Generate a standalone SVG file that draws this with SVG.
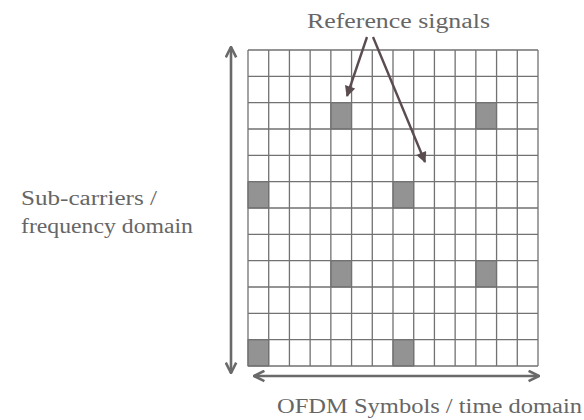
<svg xmlns="http://www.w3.org/2000/svg" width="584" height="420" viewBox="0 0 584 420">
<style>
.t{font-family:"Liberation Serif","Times New Roman",Times,serif;font-size:20.5px;fill:#666666}
.grid{fill:none;stroke:#727272;stroke-width:1.3}
.rs{fill:#939393;stroke:#727272;stroke-width:1}
.ax{stroke:#6a6a6a;stroke-width:2.6;fill:none}
.pt{stroke:#5b4c50;stroke-width:2.4;fill:none}
</style>
<defs>
<marker id="ah" viewBox="0 0 10 10" refX="9" refY="5" markerWidth="5" markerHeight="5" orient="auto-start-reverse" markerUnits="strokeWidth">
<path d="M1,1 L9,5 L1,9" fill="none" stroke="#6a6a6a" stroke-width="2"/>
</marker>
<marker id="ph" viewBox="0 0 10 10" refX="9" refY="5" markerWidth="5" markerHeight="4.5" orient="auto" markerUnits="strokeWidth">
<path d="M0,0 L10,5 L0,10 Z" fill="#5b4c50"/>
</marker>
</defs>
<rect width="584" height="420" fill="#ffffff"/>
<g id="resource-grid">
<rect x="248" y="50" width="290" height="316" fill="#ffffff"/>
<g id="reference-cells">
<rect class="rs" x="330.86" y="102.67" width="20.71" height="26.33"/>
<rect class="rs" x="475.86" y="102.67" width="20.71" height="26.33"/>
<rect class="rs" x="248" y="181.67" width="20.71" height="26.33"/>
<rect class="rs" x="392.99" y="181.67" width="20.71" height="26.33"/>
<rect class="rs" x="330.86" y="260.67" width="20.71" height="26.33"/>
<rect class="rs" x="475.86" y="260.67" width="20.71" height="26.33"/>
<rect class="rs" x="248" y="339.67" width="20.71" height="26.33"/>
<rect class="rs" x="392.99" y="339.67" width="20.71" height="26.33"/>
</g>
<path class="grid" d="M248,50V366M268.71,50V366M289.43,50V366M310.14,50V366M330.86,50V366M351.57,50V366M372.29,50V366M393,50V366M413.71,50V366M434.43,50V366M455.14,50V366M475.86,50V366M496.57,50V366M517.29,50V366M538,50V366
M248,50H538M248,76.33H538M248,102.67H538M248,129H538M248,155.33H538M248,181.67H538M248,208H538M248,234.33H538M248,260.67H538M248,287H538M248,313.33H538M248,339.67H538M248,366H538"/>
</g>
<g id="labels">
<text id="label-ref" class="t" x="307" y="28" textLength="183" lengthAdjust="spacingAndGlyphs">Reference signals</text>
<text id="label-sub1" class="t" x="21" y="205" textLength="136" lengthAdjust="spacingAndGlyphs">Sub-carriers /</text>
<text id="label-sub2" class="t" x="21" y="233" textLength="172" lengthAdjust="spacingAndGlyphs">frequency domain</text>
<text id="label-time" class="t" x="277" y="413" textLength="305" lengthAdjust="spacingAndGlyphs">OFDM Symbols / time domain</text>
</g>
<g id="connectors">
<line class="ax" x1="231" y1="373" x2="231" y2="47" marker-start="url(#ah)" marker-end="url(#ah)"/>
<line class="ax" x1="254" y1="376" x2="539" y2="376" marker-start="url(#ah)" marker-end="url(#ah)"/>
<line class="pt" x1="367" y1="37" x2="347" y2="96" marker-end="url(#ph)"/>
<line class="pt" x1="373" y1="37" x2="425" y2="162" marker-end="url(#ph)"/>
</g>
</svg>
